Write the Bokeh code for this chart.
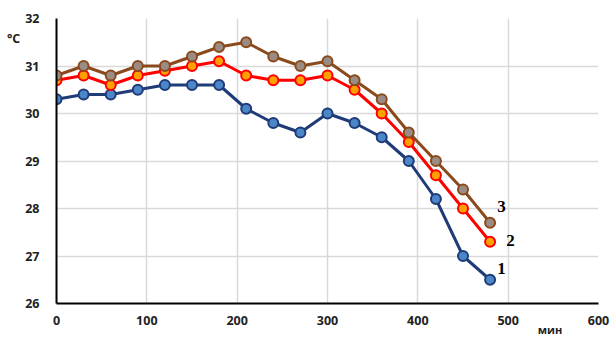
from bokeh.plotting import figure
from bokeh.models import Range1d, FixedTicker
from bokeh.embed import file_html
from bokeh.resources import INLINE
from bokeh.core.properties import value

minutes = [0, 30, 60, 90, 120, 150, 180, 210, 240, 270, 300, 330, 360, 390, 420, 450, 480]
series1 = [30.3, 30.4, 30.4, 30.5, 30.6, 30.6, 30.6, 30.1, 29.8, 29.6, 30.0, 29.8, 29.5, 29.0, 28.2, 27.0, 26.5]
series2 = [30.7, 30.8, 30.6, 30.8, 30.9, 31.0, 31.1, 30.8, 30.7, 30.7, 30.8, 30.5, 30.0, 29.4, 28.7, 28.0, 27.3]
series3 = [30.8, 31.0, 30.8, 31.0, 31.0, 31.2, 31.4, 31.5, 31.2, 31.0, 31.1, 30.7, 30.3, 29.6, 29.0, 28.4, 27.7]
series_labels = ["1", "2", "3"]
label_x = [488, 498, 488]
label_y = [26.74, 27.33, 28.04]
x_ticks = [0, 100, 200, 300, 400, 500, 600]
y_ticks = [26, 27, 28, 29, 30, 31, 32]
y_title = "°C"
x_title = "мин"

p = figure(width=610, height=340, output_backend="svg", toolbar_location=None,
           x_range=Range1d(0, 600), y_range=Range1d(26, 32),
           min_border_left=56, min_border_right=12, min_border_top=18, min_border_bottom=37)
p.outline_line_color = None
p.background_fill_color = "white"

for ax in (p.xaxis, p.yaxis):
    ax.axis_line_color = "black"
    ax.axis_line_width = 2
    ax.major_tick_line_color = None
    ax.minor_tick_line_color = None
    ax.major_label_text_font = "Open Sans"
    ax.major_label_text_font_style = "bold"
    ax.major_label_text_font_size = "12.5px"
    ax.major_label_text_color = "#222222"
    ax.axis_label_text_font = "Open Sans"
    ax.axis_label_text_font_style = "bold"
    ax.axis_label_text_color = "#222222"
p.xaxis.ticker = FixedTicker(ticks=x_ticks)
p.yaxis.ticker = FixedTicker(ticks=y_ticks)
p.xaxis.major_label_standoff = 6
p.yaxis.major_label_standoff = 11

p.yaxis.axis_label = "\n\n" + y_title
p.yaxis.axis_label_orientation = "horizontal"
p.yaxis.axis_label_align = "end"
p.yaxis.axis_label_text_font_size = "12.5px"
p.yaxis.axis_label_standoff = 2

p.xaxis.axis_label = x_title + "\u00a0" * 34
p.xaxis.axis_label_align = "end"
p.xaxis.axis_label_text_font_size = "11px"
p.xaxis.axis_label_standoff = -6

p.xgrid.ticker = FixedTicker(ticks=x_ticks)
p.ygrid.ticker = FixedTicker(ticks=y_ticks)
p.grid.grid_line_color = "#d9d9d9"
p.grid.grid_line_width = 1.5

styles = [
    (series1, "#1F3B78", "#4A86C8"),
    (series2, "#FF0000", "#FFA000"),
    (series3, "#8B4A1C", "#9A8C84"),
]
for ys, lc, fc in styles:
    p.line(minutes, ys, line_color=lc, line_width=3)
    p.scatter(minutes, ys, size=10, marker="circle", line_color=lc, line_width=2, fill_color=fc)

for t, lx, ly in zip(series_labels, label_x, label_y):
    p.text(x=[lx], y=[ly], text=[t], text_font=value("Liberation Serif"), text_font_style="bold",
           text_font_size="17px", text_color="black", text_align="left", text_baseline="middle")

open("out.html", "w").write(file_html(p, INLINE))
